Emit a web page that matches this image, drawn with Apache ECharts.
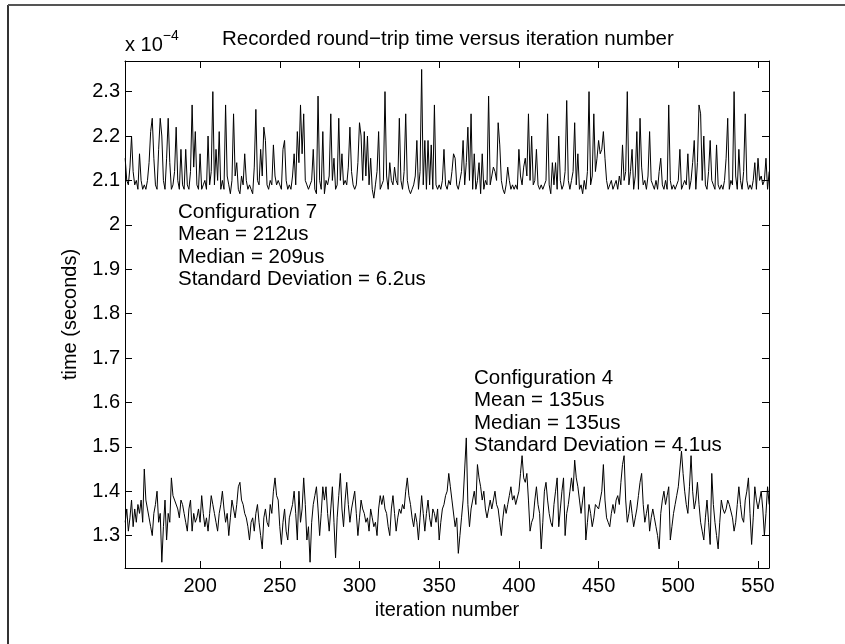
<!DOCTYPE html>
<html>
<head>
<meta charset="utf-8">
<script src="https://cdn.jsdelivr.net/npm/echarts@6/dist/echarts.min.js"></script>
<style>
html,body{margin:0;padding:0;background:#fff;}
#chart{width:845px;height:644px;}
</style>
</head>
<body>
<div id="chart"></div>
<script>
// iteration numbers start here (one value per iteration)
const iterStart = 153;
const iterEnd = 557;

// Configuration 7 round-trip times, in units of 1e-4 s
const config7 = [
2.15,2.10,2.09,2.13,2.20,2.12,2.09,2.10,2.08,2.16,
2.10,2.08,2.09,2.08,2.10,2.14,2.21,2.24,2.15,2.09,
2.08,2.17,2.24,2.20,2.10,2.08,2.15,2.24,2.14,2.08,
2.09,2.12,2.22,2.10,2.08,2.17,2.09,2.08,2.17,2.09,
2.08,2.12,2.27,2.13,2.21,2.09,2.08,2.16,2.08,2.09,
2.10,2.08,2.20,2.09,2.12,2.30,2.09,2.17,2.10,2.21,
2.08,2.10,2.08,2.27,2.11,2.09,2.07,2.10,2.25,2.11,
2.14,2.08,2.07,2.11,2.09,2.16,2.10,2.08,2.09,2.08,
2.07,2.13,2.26,2.10,2.09,2.17,2.11,2.22,2.19,2.09,
2.08,2.10,2.09,2.18,2.11,2.09,2.10,2.09,2.08,2.17,
2.19,2.10,2.08,2.09,2.08,2.11,2.16,2.09,2.21,2.14,
2.27,2.16,2.25,2.10,2.09,2.08,2.09,2.10,2.17,2.08,
2.07,2.29,2.10,2.08,2.21,2.07,2.10,2.09,2.11,2.25,
2.10,2.15,2.08,2.09,2.24,2.10,2.16,2.09,2.10,2.09,
2.13,2.22,2.12,2.09,2.08,2.09,2.14,2.23,2.20,2.10,
2.21,2.11,2.20,2.09,2.15,2.08,2.06,2.09,2.12,2.21,
2.08,2.09,2.10,2.30,2.11,2.08,2.14,2.10,2.09,2.13,
2.10,2.09,2.24,2.10,2.08,2.12,2.25,2.10,2.08,2.07,
2.08,2.09,2.11,2.19,2.08,2.12,2.35,2.09,2.19,2.08,
2.19,2.09,2.18,2.08,2.27,2.09,2.08,2.09,2.08,2.10,
2.17,2.09,2.08,2.10,2.09,2.12,2.16,2.15,2.09,2.08,
2.10,2.12,2.19,2.09,2.14,2.22,2.10,2.25,2.08,2.16,
2.08,2.10,2.14,2.07,2.16,2.08,2.10,2.09,2.29,2.09,
2.11,2.13,2.12,2.10,2.23,2.18,2.10,2.08,2.07,2.09,
2.13,2.10,2.08,2.09,2.08,2.09,2.08,2.17,2.11,2.09,
2.13,2.15,2.11,2.25,2.10,2.20,2.09,2.10,2.17,2.09,
2.08,2.09,2.08,2.09,2.10,2.25,2.09,2.07,2.14,2.09,
2.14,2.08,2.20,2.10,2.08,2.09,2.12,2.28,2.10,2.08,
2.10,2.12,2.23,2.09,2.16,2.08,2.09,2.07,2.10,2.08,
2.12,2.30,2.09,2.11,2.25,2.12,2.15,2.19,2.16,2.17,
2.21,2.15,2.10,2.08,2.09,2.10,2.08,2.09,2.10,2.08,
2.11,2.09,2.18,2.10,2.12,2.30,2.09,2.12,2.17,2.08,
2.11,2.21,2.08,2.24,2.13,2.09,2.10,2.08,2.11,2.21,
2.10,2.09,2.08,2.10,2.08,2.12,2.15,2.09,2.08,2.10,
2.08,2.27,2.10,2.08,2.09,2.08,2.09,2.10,2.17,2.08,
2.09,2.10,2.09,2.16,2.08,2.10,2.14,2.19,2.08,2.14,
2.27,2.25,2.10,2.20,2.09,2.08,2.12,2.19,2.10,2.09,
2.08,2.18,2.09,2.08,2.09,2.08,2.10,2.15,2.24,2.08,
2.10,2.09,2.30,2.11,2.08,2.17,2.10,2.08,2.12,2.25,
2.10,2.08,2.09,2.08,2.10,2.14,2.08,2.15,2.10,2.11,
2.09,2.10,2.15,2.08,2.12
];

// Configuration 4 round-trip times, in units of 1e-4 s
const config4 = [
1.33,1.36,1.31,1.34,1.38,1.32,1.36,1.33,1.37,1.35,
1.38,1.33,1.45,1.38,1.36,1.34,1.32,1.30,1.35,1.37,
1.40,1.33,1.35,1.24,1.32,1.38,1.29,1.35,1.33,1.43,
1.39,1.38,1.38,1.36,1.34,1.38,1.37,1.35,1.33,1.31,
1.36,1.38,1.31,1.35,1.33,1.34,1.36,1.33,1.39,1.35,
1.32,1.34,1.31,1.35,1.39,1.37,1.35,1.33,1.31,1.35,
1.37,1.40,1.36,1.33,1.35,1.30,1.34,1.38,1.36,1.34,
1.37,1.41,1.42,1.38,1.37,1.35,1.34,1.32,1.29,1.33,
1.34,1.31,1.35,1.37,1.33,1.30,1.27,1.34,1.36,1.33,
1.32,1.37,1.35,1.40,1.43,1.39,1.38,1.32,1.28,1.33,
1.36,1.31,1.29,1.34,1.34,1.37,1.40,1.35,1.29,1.40,
1.33,1.36,1.43,1.37,1.29,1.32,1.24,1.33,1.37,1.39,
1.41,1.36,1.30,1.35,1.41,1.38,1.41,1.35,1.31,1.36,
1.41,1.33,1.25,1.34,1.39,1.44,1.36,1.32,1.38,1.42,
1.37,1.33,1.36,1.38,1.40,1.35,1.30,1.34,1.38,1.36,
1.35,1.33,1.34,1.31,1.36,1.34,1.32,1.33,1.30,1.36,
1.39,1.37,1.39,1.36,1.35,1.32,1.30,1.36,1.39,1.35,
1.31,1.34,1.36,1.35,1.37,1.36,1.40,1.43,1.39,1.37,
1.34,1.32,1.35,1.33,1.29,1.34,1.39,1.35,1.31,1.35,
1.38,1.34,1.32,1.36,1.35,1.33,1.36,1.29,1.33,1.36,
1.37,1.39,1.40,1.44,1.41,1.38,1.38,1.32,1.34,1.26,
1.30,1.34,1.38,1.45,1.52,1.37,1.32,1.36,1.38,1.40,
1.37,1.46,1.43,1.41,1.38,1.40,1.36,1.34,1.36,1.38,
1.36,1.38,1.40,1.37,1.36,1.33,1.30,1.34,1.37,1.35,
1.37,1.39,1.41,1.38,1.39,1.37,1.37,1.40,1.44,1.48,
1.43,1.42,1.44,1.38,1.31,1.33,1.34,1.38,1.41,1.37,
1.35,1.27,1.33,1.40,1.42,1.38,1.35,1.33,1.32,1.37,
1.40,1.43,1.32,1.36,1.40,1.43,1.30,1.35,1.37,1.40,
1.43,1.40,1.47,1.43,1.41,1.38,1.35,1.38,1.41,1.29,
1.33,1.37,1.35,1.32,1.34,1.37,1.37,1.36,1.36,1.40,
1.46,1.38,1.34,1.33,1.32,1.35,1.37,1.35,1.38,1.39,
1.37,1.42,1.46,1.48,1.38,1.33,1.35,1.38,1.35,1.32,
1.34,1.36,1.39,1.42,1.44,1.37,1.33,1.35,1.37,1.31,
1.34,1.36,1.34,1.32,1.30,1.27,1.35,1.38,1.40,1.37,
1.39,1.41,1.29,1.32,1.35,1.37,1.39,1.41,1.45,1.49,
1.44,1.40,1.37,1.35,1.41,1.48,1.40,1.36,1.38,1.42,
1.37,1.33,1.31,1.29,1.34,1.38,1.33,1.28,1.44,1.37,
1.33,1.30,1.27,1.33,1.38,1.36,1.35,1.36,1.38,1.37,
1.37,1.34,1.31,1.33,1.37,1.41,1.37,1.34,1.33,1.38,
1.40,1.43,1.35,1.28,1.34,1.41,1.38,1.36,1.38,1.40,
1.36,1.30,1.35,1.41,1.37
];

const xTicks = [200, 250, 300, 350, 400, 450, 500, 550];
const yTicks = [1.3, 1.4, 1.5, 1.6, 1.7, 1.8, 1.9, 2, 2.1, 2.2, 2.3];

const titleText = 'Recorded round\u2212trip time versus iteration number';
const xName = 'iteration number';
const yName = 'time (seconds)';
const notes7 = ['Configuration 7', 'Mean = 212us', 'Median = 209us', 'Standard Deviation = 6.2us'];
const notes4 = ['Configuration 4', 'Mean = 135us', 'Median = 135us', 'Standard Deviation = 4.1us'];

const FONT = '"Liberation Sans", Arial, Helvetica, sans-serif';
const FS = 20;
const FS_TEXT = 20.5;

const toPairs = arr => arr.map((v, i) => [iterStart + i, v]);

const chart = echarts.init(document.getElementById('chart'), null, {renderer: 'canvas'});

const axisLineStyle = {color: '#000', width: 1};
const xBase = {
  type: 'value', min: 152.9, max: 556.9,
  splitLine: {show: false},
  axisLine: {show: true, onZero: false, lineStyle: axisLineStyle},
};
const yBase = {
  type: 'value', min: 1.227, max: 2.369,
  splitLine: {show: false},
  axisLine: {show: true, onZero: false, lineStyle: axisLineStyle},
};

const option = {
  animation: false,
  backgroundColor: '#fff',
  textStyle: {fontFamily: FONT},
  title: {
    text: titleText,
    left: 222, top: 29, padding: 0,
    textStyle: {fontFamily: FONT, fontSize: FS_TEXT, fontWeight: 'normal', color: '#000'}
  },
  grid: {left: 125, right: 76, top: 61, bottom: 76, containLabel: false},
  xAxis: [
    Object.assign({}, xBase, {
      position: 'bottom',
      axisTick: {show: true, inside: true, length: 7, customValues: xTicks, lineStyle: axisLineStyle},
      axisLabel: {show: true, customValues: xTicks, margin: 8, color: '#000', fontSize: FS, fontFamily: FONT},
      name: xName, nameLocation: 'middle', nameGap: 24,
      nameTextStyle: {color: '#000', fontSize: FS, fontFamily: FONT}
    }),
    Object.assign({}, xBase, {
      position: 'top',
      axisTick: {show: true, inside: true, length: 7, customValues: xTicks, lineStyle: axisLineStyle},
      axisLabel: {show: false}
    })
  ],
  yAxis: [
    Object.assign({}, yBase, {
      position: 'left',
      axisTick: {show: true, inside: true, length: 7, customValues: yTicks, lineStyle: axisLineStyle},
      axisLabel: {show: true, customValues: yTicks, margin: 5, color: '#000', fontSize: FS, fontFamily: FONT,
        formatter: v => String(parseFloat(v.toFixed(1)))},
      name: yName, nameLocation: 'middle', nameGap: 45, nameRotate: 90,
      nameTextStyle: {color: '#000', fontSize: FS, fontFamily: FONT}
    }),
    Object.assign({}, yBase, {
      position: 'right',
      axisTick: {show: true, inside: true, length: 7, customValues: yTicks, lineStyle: axisLineStyle},
      axisLabel: {show: false}
    })
  ],
  series: [
    {type: 'line', name: 'Configuration 7', data: toPairs(config7), showSymbol: false, symbol: 'none',
     xAxisIndex: 0, yAxisIndex: 0, lineStyle: {color: '#000', width: 1}, silent: true},
    {type: 'line', name: 'Configuration 4', data: toPairs(config4), showSymbol: false, symbol: 'none',
     xAxisIndex: 0, yAxisIndex: 0, lineStyle: {color: '#000', width: 1}, silent: true}
  ],
  graphic: [
    // figure frame (left and top edges)
    {type: 'line', shape: {x1: 8, y1: 5, x2: 8, y2: 644}, style: {stroke: '#333', lineWidth: 2}},
    {type: 'line', shape: {x1: 8, y1: 5, x2: 845, y2: 5}, style: {stroke: '#555', lineWidth: 2}},
    // exponent label
    {type: 'text', x: 125, y: 55, style: {
      text: '{b|x 10}{s|\u22124}', textVerticalAlign: 'bottom',
      rich: {b: {fontSize: FS, fontFamily: FONT, fill: '#000', verticalAlign: 'bottom'},
             s: {fontSize: 14, fontFamily: FONT, fill: '#000', verticalAlign: 'top', padding: [0,0,12,0]}}
    }},
    {type: 'text', x: 178, y: 201, style: {text: notes7.join('\n'), fontSize: FS_TEXT, fontFamily: FONT, fill: '#000', lineHeight: 22.5}},
    {type: 'text', x: 474, y: 367, style: {text: notes4.join('\n'), fontSize: FS_TEXT, fontFamily: FONT, fill: '#000', lineHeight: 22.5}}
  ]
};
chart.setOption(option);
</script>
</body>
</html>
